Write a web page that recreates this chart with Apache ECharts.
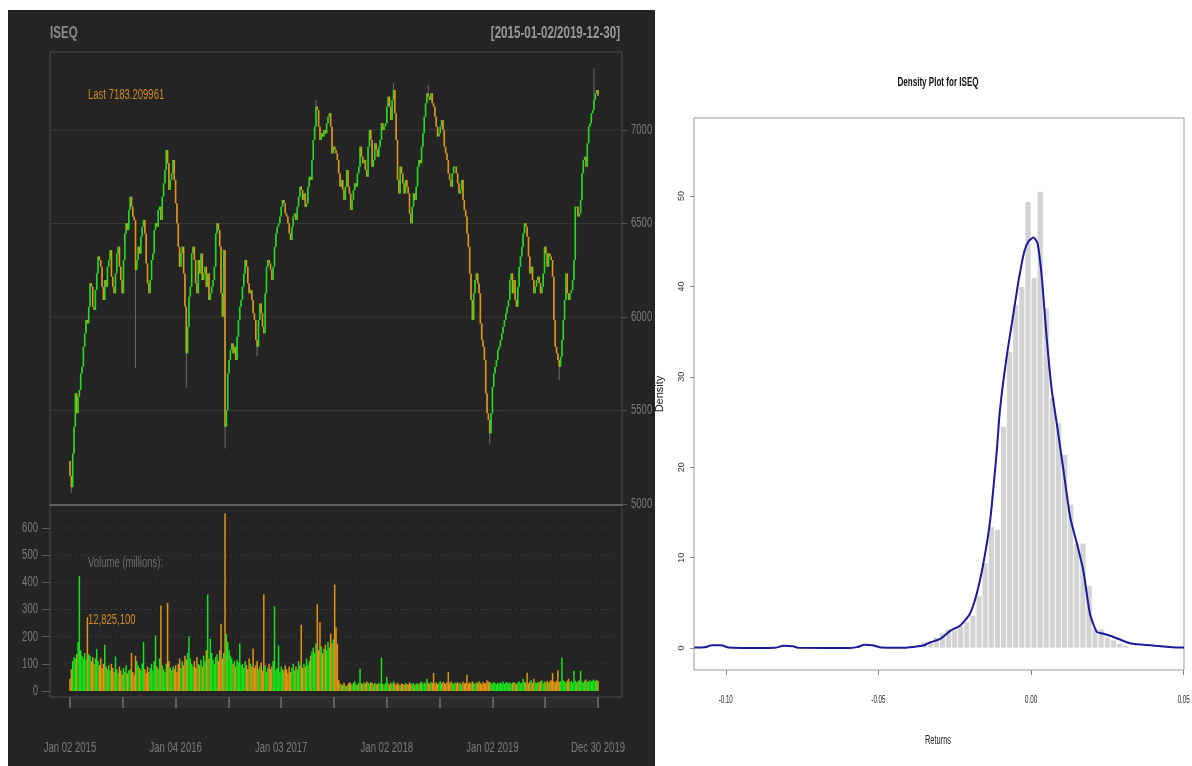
<!DOCTYPE html>
<html>
<head>
<meta charset="utf-8">
<script src="https://cdn.jsdelivr.net/npm/echarts@6/dist/echarts.min.js"></script>
<style>
  html, body { margin: 0; padding: 0; background: #ffffff; }
  #wrap { position: relative; width: 1192px; height: 766px; overflow: hidden; }
  #dark { position: absolute; left: 8px; top: 10px; width: 647px; height: 756px; background: #242424; }
  #chart { position: absolute; left: 0; top: 0; width: 1192px; height: 766px; }
</style>
</head>
<body>
<div id="wrap"><div id="dark"></div><div id="chart"></div></div>
<script>
// ---------- ISEQ price path (closing level of each ~3-session step) ----------
const closes = [
  5150, 5090, 5271, 5413, 5592, 5485, 5574, 5609, 5699, 5734,
  5841, 5913, 5984, 5966, 6055, 6180, 6162, 6055, 6038, 6144,
  6233, 6323, 6305, 6269, 6162, 6091, 6198, 6162, 6269, 6305,
  6358, 6216, 6162, 6127, 6233, 6340, 6376, 6269, 6198, 6127,
  6305, 6447, 6501, 6465, 6572, 6643, 6590, 6536, 6519, 6251,
  6305, 6376, 6340, 6429, 6483, 6519, 6447, 6287, 6180, 6127,
  6198, 6305, 6340, 6465, 6501, 6483, 6572, 6590, 6519, 6643,
  6715, 6786, 6893, 6822, 6679, 6733, 6768, 6840, 6733, 6608,
  6501, 6376, 6269, 6340, 6376, 6233, 6055, 5806, 5948, 6109,
  6162, 6340, 6376, 6305, 6180, 6127,
  6305, 6233, 6340, 6198, 6233, 6269, 6162, 6233, 6091, 6127,
  6162, 6198, 6269, 6447, 6501, 6465, 6376, 6127, 6002, 6358,
  5413, 5502, 5699, 5770, 5824, 5859, 5806, 5841, 5770, 5895,
  5984, 6055, 6091, 6162, 6233, 6305, 6269, 6180, 6127, 6144,
  6091, 6020, 5984, 5877, 5841, 5984, 6073, 6020, 5948, 5913,
  6127, 6269, 6305, 6287, 6251, 6198, 6269, 6376, 6447, 6483,
  6501, 6537, 6590, 6626, 6608, 6554, 6537, 6501, 6447, 6412,
  6483, 6537, 6554, 6519, 6590, 6643, 6697, 6679, 6626, 6661,
  6590, 6608, 6697, 6750, 6733, 6840, 6947, 7018, 7125, 7107,
  7018, 6947, 6982, 6965, 7000, 6982, 7036, 7071, 7089, 7018,
  6875,
  6911, 6893, 6875, 6840, 6768, 6697, 6733, 6679, 6626, 6697,
  6786, 6697, 6661, 6572, 6626, 6679, 6715, 6697, 6768, 6804,
  6911, 6857, 6822, 6840, 6786, 6750, 6911, 7000, 6947, 6804,
  6840, 6929, 6893, 6857, 6911, 6947, 7036, 7000, 7018, 7036,
  7125, 7178, 7125, 7053, 7160, 7214, 7089, 6947, 6733, 6661,
  6804, 6768, 6715, 6661, 6733, 6697, 6661, 6554, 6501, 6590,
  6661, 6626, 6697, 6804, 6840, 6822, 6911, 6982, 7071, 7143,
  7196, 7178, 7160, 7196, 7143, 7125, 7071, 7018, 6965, 6982,
  7018, 7053, 7000, 6911, 6875, 6840, 6768, 6733, 6697, 6768,
  6804, 6804, 6768, 6715, 6661, 6679, 6733, 6626, 6572, 6537,
  6447,
  6376, 6233, 6091, 5984, 6127, 6198, 6233, 6180, 6127, 5966,
  5877, 5841, 5770, 5592, 5485, 5449, 5378, 5485, 5627, 5699,
  5734, 5770, 5824, 5841, 5877, 5913, 5948, 5984, 6020, 6055,
  6091, 6198, 6233, 6127, 6198, 6091, 6055, 6162, 6269, 6323,
  6376, 6447, 6501, 6483, 6429, 6323, 6233, 6269, 6198, 6127,
  6162, 6198, 6216, 6180, 6127, 6162, 6233, 6376, 6340, 6269,
  6340, 6323, 6305, 6216, 5984, 5841, 5806, 5770, 5734, 5788,
  5877, 5984, 6091, 6233, 6127, 6091, 6127, 6144, 6198, 6305,
  6590, 6590, 6537, 6554, 6626, 6768, 6840, 6857, 6804, 6929,
  7018, 7036, 7089, 7107, 7160, 7196, 7214, 7183
];
const firstOpen = 5230;
// long shadows: [step index, extreme level]
const wickLows  = [[1, 5060], [49, 5725], [87, 5620], [116, 5297], [140, 5790], [314, 5324], [366, 5663]];
const wickHighs = [[184, 7160], [242, 7250], [268, 7240], [392, 7330]];

// ---------- traded volume, millions ----------
const volumes = [
  45, 80, 110, 125, 120, 135, 180, 423, 150, 130,
  120, 140, 115, 272, 135, 130, 110, 125, 100, 120,
  155, 110, 95, 120, 85, 100, 170, 90, 80, 95,
  75, 100, 85, 70, 127, 80, 65, 90, 75, 60,
  85, 70, 95, 65, 75, 80, 140, 70, 60, 130,
  110, 95, 85, 75, 100, 181, 80, 65, 90, 70,
  85, 100, 75, 110, 205, 90, 80, 120, 315, 95,
  80, 70, 100, 324, 110, 85, 75, 90, 80, 95,
  70, 100, 120, 85, 110, 95, 130, 115, 140, 201,
  120, 100, 90, 110, 85, 125, 100, 95, 115, 90,
  130, 110, 150, 356, 120, 192, 140, 115, 100, 125,
  135, 110, 150, 248, 120, 140, 654, 210, 180, 150,
  130, 120, 100, 110, 90, 115, 105, 175, 95, 100,
  85, 110, 95, 80, 120, 100, 90, 156, 85, 95,
  110, 80, 90, 105, 75, 356, 95, 70, 85, 100,
  80, 90, 110, 312, 75, 85, 167, 70, 90, 80,
  75, 95, 80, 65, 90, 70, 85, 100, 75, 90,
  80, 110, 95, 244, 85, 100, 90, 120, 95, 110,
  130, 145, 160, 140, 175, 319, 150, 254, 165, 140,
  155, 170, 150, 180, 160, 211, 175, 190, 392, 235,
  174, 40, 28, 25, 22, 30, 20, 18, 25, 32,
  28, 24, 30, 35, 26, 22, 30, 82, 28, 25,
  32, 28, 35, 30, 26, 33, 29, 24, 30, 27,
  25, 30, 28, 123, 26, 22, 30, 52, 28, 24,
  30, 26, 35, 28, 22, 30, 25, 20, 28, 26,
  22, 30, 26, 24, 32, 28, 25, 30, 22, 27,
  28, 24, 30, 35, 26, 31, 28, 45, 30, 26,
  33, 29, 66, 28, 32, 25, 30, 36, 28, 34,
  30, 26, 32, 70, 28, 35, 30, 26, 31, 28,
  33, 27, 30, 25, 34, 28, 30, 60, 27, 32,
  28, 35, 30, 26, 32, 29, 36, 30, 25, 33,
  30, 28, 40, 35, 32, 30, 27, 33, 29, 25,
  30, 27, 32, 28, 35, 26, 30, 33, 28, 31,
  27, 30, 33, 29, 25, 31, 35, 28, 30, 45,
  33, 30, 67, 28, 35, 40, 30, 45, 32, 29,
  34, 30, 36, 40, 28, 35, 32, 38, 30, 36,
  40, 66, 35, 30, 38, 76, 33, 36, 123, 40,
  35, 30, 38, 45, 33, 36, 30, 74, 38, 32,
  36, 40, 74, 35, 30, 38, 42, 33, 36, 40,
  35, 38, 42, 36, 40, 38
];

const dateLabels   = ['Jan 02 2015', 'Jan 04 2016', 'Jan 03 2017', 'Jan 02 2018', 'Jan 02 2019', 'Dec 30 2019'];
const priceTicks   = [5000, 5500, 6000, 6500, 7000];
const priceGrid    = [5500, 6000, 6500, 7000];
const volumeTicks  = [0, 100, 200, 300, 400, 500, 600];

// ---------- daily returns: histogram and kernel density ----------
const binStart = -0.036;
const binWidth = 0.002;
const binHeights = [
  0.7, 0.8, 1.2, 1.7, 2.1, 2.0, 2.5, 2.9, 3.6, 5.8,
  9.4, 13.4, 13.1, 24.5, 32.8, 38.0, 40.0, 49.4, 41.0, 50.5,
  37.6, 27.7, 24.9, 21.4, 15.9, 11.6, 11.6, 6.9, 2.1, 2.1,
  1.2, 0.9, 0.5, 0.3
];
const densityX = [
  -0.1103, -0.107, -0.1045, -0.1015, -0.099, -0.09, -0.084, -0.081, -0.078, -0.076,
  -0.06, -0.057, -0.0545, -0.052, -0.049, -0.043, -0.038, -0.035, -0.0332, -0.0298,
  -0.0265, -0.0232, -0.0200, -0.0178, -0.0156, -0.0134, -0.0112, -0.0102, -0.0080, -0.0060,
  -0.0040, -0.0022, -0.0008, 0.0008, 0.0021, 0.0035, 0.0051, 0.0068, 0.0084, 0.0106,
  0.0128, 0.0150, 0.0171, 0.0193, 0.0215, 0.0235, 0.0272, 0.0327, 0.0393, 0.0462, 0.0501
];
const densityY = [
  0.05, 0.08, 0.3, 0.3, 0.05, 0.0, 0.02, 0.25, 0.2, 0.02,
  0.0, 0.1, 0.35, 0.3, 0.05, 0.02, 0.15, 0.3, 0.6, 1.0,
  1.9, 2.5, 3.8, 6.0, 9.4, 14.1, 21.9, 26.3, 32.2, 36.5,
  40.8, 43.9, 45.0, 45.4, 44.8, 41.1, 34.4, 28.5, 24.9, 19.7,
  14.5, 11.6, 8.6, 3.8, 1.8, 1.6, 1.2, 0.5, 0.3, 0.1, 0.05
];
const densityTicksX = [-0.10, -0.05, 0.00, 0.05];
const densityTicksY = [0, 10, 20, 30, 40, 50];

// ---------- styling ----------
const UP = '#19e019';
const DOWN = '#e39512';
const FONT = "'Liberation Sans', Arial, sans-serif";
const AXIS_GREY = '#7b7b7b';
const SQUEEZE = 0.68;      // condensed lettering of the quote panel
const SQUEEZE_R = 0.62;    // condensed lettering of the density panel

// time axis in years from the first session (0) to the last (5)
const XMIN = -0.1894, XMAX = 5.2273;
const N = closes.length;
const tOf = i => i * 5 / (N - 1);

const candleData = closes.map((c, i) => {
  const o = i === 0 ? firstOpen : closes[i - 1];
  return [tOf(i), o, c, Math.min(o, c), Math.max(o, c)];
});
wickLows.forEach(([i, v]) => { candleData[i][3] = v; });
wickHighs.forEach(([i, v]) => { candleData[i][4] = v; });

const volumeData = volumes.map((v, i) => [tOf(i), v, candleData[i][2] >= candleData[i][1] ? 1 : 0]);

const histData = binHeights.map((h, j) => [binStart + j * binWidth, binStart + (j + 1) * binWidth, h]);
const densityData = densityX.map((x, k) => [x, densityY[k]]);

function renderCandle(params, api) {
  const x = api.value(0), o = api.value(1), c = api.value(2), lo = api.value(3), hi = api.value(4);
  const pO = api.coord([x, o]), pC = api.coord([x, c]);
  const pL = api.coord([x, lo]), pH = api.coord([x, hi]);
  const w = 1.6;
  const top = Math.min(pO[1], pC[1]);
  const h = Math.max(Math.abs(pO[1] - pC[1]), 1);
  return {
    type: 'group',
    children: [
      { type: 'line', shape: { x1: pL[0], y1: pL[1], x2: pH[0], y2: pH[1] },
        style: { stroke: '#6c6c6c', lineWidth: 1 } },
      { type: 'rect', shape: { x: pO[0] - w / 2, y: top, width: w, height: h },
        style: { fill: c >= o ? UP : DOWN } }
    ]
  };
}

function renderVolume(params, api) {
  const x = api.value(0), v = api.value(1), up = api.value(2);
  const p0 = api.coord([x, 0]), p1 = api.coord([x, v]);
  const w = 1.5;
  return { type: 'rect', shape: { x: p0[0] - w / 2, y: p1[1], width: w, height: p0[1] - p1[1] },
           style: { fill: up ? UP : DOWN } };
}

function gridLineRenderer(color, dash) {
  return function (params, api) {
    const v = api.value(1);
    const a = api.coord([XMIN, v]), b = api.coord([XMAX, v]);
    return { type: 'line', shape: { x1: a[0], y1: a[1], x2: b[0], y2: b[1] },
             style: { stroke: color, lineWidth: 1, lineDash: dash } };
  };
}

function renderBin(params, api) {
  const a = api.coord([api.value(0), 0]);
  const b = api.coord([api.value(1), api.value(2)]);
  return { type: 'rect', shape: { x: a[0], y: b[1], width: b[0] - a[0], height: a[1] - b[1] },
           style: { fill: '#d3d3d3', stroke: '#ffffff', lineWidth: 0.8 } };
}

// condensed text placed at an anchor point
function label(text, x, y, opts) {
  return {
    type: 'text', x: x, y: y, scaleX: opts.squeeze, scaleY: 1, silent: true, z: 10,
    style: { text: text, fill: opts.color, font: (opts.weight || '') + ' ' + opts.size + 'px ' + FONT,
             align: opts.align || 'left', verticalAlign: 'middle' }
  };
}

const chart = echarts.init(document.getElementById('chart'), null, { renderer: 'canvas' });

const option = {
  animation: false,
  backgroundColor: 'transparent',
  grid: [
    { left: 50, top: 52, width: 572, height: 453, show: true, borderColor: '#484848', borderWidth: 1 },
    { left: 50, top: 505, width: 572, height: 192, show: true, borderColor: '#484848', borderWidth: 1 },
    { left: 694, top: 118, width: 490, height: 552, show: true, borderColor: '#9a9a9a', borderWidth: 1 }
  ],
  xAxis: [
    { type: 'value', gridIndex: 0, min: XMIN, max: XMAX,
      axisLine: { show: true, onZero: false, lineStyle: { color: '#6e6e6e', width: 1.5 } },
      axisTick: { show: false }, axisLabel: { show: false }, splitLine: { show: false } },
    { type: 'value', gridIndex: 1, min: XMIN, max: XMAX,
      axisLine: { show: false, onZero: false },
      axisTick: { show: true, length: 11, customValues: [0, 0.5, 1, 1.5, 2, 2.5, 3, 3.5, 4, 4.5, 5],
                  lineStyle: { color: '#5e5e5e', width: 2 } },
      axisLabel: { show: false }, splitLine: { show: false } },
    { type: 'value', gridIndex: 2, min: -0.1104, max: 0.0501,
      axisLine: { show: false, onZero: false },
      axisTick: { show: true, length: 5, customValues: densityTicksX, lineStyle: { color: '#888' } },
      axisLabel: { show: false }, splitLine: { show: false } }
  ],
  yAxis: [
    { type: 'value', gridIndex: 0, position: 'right', min: 4995, max: 7417,
      axisLine: { show: false, onZero: false },
      axisTick: { show: true, length: 5, customValues: priceTicks, lineStyle: { color: '#5a5a5a' } },
      axisLabel: { show: false }, splitLine: { show: false } },
    { type: 'value', gridIndex: 1, position: 'left', min: -22.1, max: 684.7,
      axisLine: { show: false, onZero: false },
      axisTick: { show: true, length: 8, customValues: volumeTicks, lineStyle: { color: '#5a5a5a' } },
      axisLabel: { show: false }, splitLine: { show: false } },
    { type: 'value', gridIndex: 2, min: -2.43, max: 58.63,
      name: 'Density', nameLocation: 'middle', nameGap: 29, nameRotate: 90,
      nameTextStyle: { color: '#222', fontFamily: FONT, fontSize: 11 },
      axisLine: { show: false, onZero: false },
      axisTick: { show: true, length: 4, customValues: densityTicksY, lineStyle: { color: '#888' } },
      axisLabel: { show: true, margin: 8, rotate: 90, customValues: densityTicksY, formatter: v => String(v),
                   color: '#333', fontFamily: FONT, fontSize: 9 },
      splitLine: { show: false } }
  ],
  series: [
    { type: 'custom', name: 'price grid', xAxisIndex: 0, yAxisIndex: 0, silent: true, z: 1,
      data: priceGrid.map(v => [XMIN, v]), renderItem: gridLineRenderer('#383838', null) },
    { type: 'custom', name: 'volume grid', xAxisIndex: 1, yAxisIndex: 1, silent: true, z: 1,
      data: volumeTicks.slice(1).map(v => [XMIN, v]), renderItem: gridLineRenderer('#3a3a3a', [2, 3]) },
    { type: 'custom', name: 'ISEQ', xAxisIndex: 0, yAxisIndex: 0, silent: true, z: 3,
      data: candleData, renderItem: renderCandle },
    { type: 'custom', name: 'Volume', xAxisIndex: 1, yAxisIndex: 1, silent: true, z: 3,
      data: volumeData, renderItem: renderVolume },
    { type: 'custom', name: 'Histogram', xAxisIndex: 2, yAxisIndex: 2, silent: true, z: 2,
      data: histData, renderItem: renderBin },
    { type: 'line', name: 'Density', xAxisIndex: 2, yAxisIndex: 2, silent: true, z: 4,
      data: densityData, showSymbol: false, smooth: 0.2,
      lineStyle: { color: '#1a1a9c', width: 2 } }
  ]
};

chart.setOption(option);

// text layer: titles, legends and tick labels positioned from the axes
const L = { color: AXIS_GREY, size: 14, squeeze: SQUEEZE };
const g = [];
g.push(label('ISEQ', 50, 33, { color: '#8a8a8a', size: 17, weight: 'bold', squeeze: SQUEEZE }));
g.push(label('[2015-01-02/2019-12-30]', 620, 33, { color: '#9a9a9a', size: 17, weight: 'bold', squeeze: SQUEEZE, align: 'right' }));
g.push(label('Last 7183.209961', 88, 95, { color: '#cf8a1e', size: 14, squeeze: SQUEEZE }));
g.push(label('Volume (millions):', 88, 563, { color: '#6f6f6f', size: 14, squeeze: SQUEEZE }));
g.push(label('12,825,100', 88, 620, { color: '#cf8a1e', size: 14, squeeze: SQUEEZE }));

dateLabels.forEach((s, k) => {
  const px = chart.convertToPixel({ xAxisIndex: 1 }, k);
  g.push(label(s, px, 748, Object.assign({ align: 'center' }, L)));
});
priceTicks.forEach(v => {
  const py = chart.convertToPixel({ yAxisIndex: 0 }, v);
  g.push(label(String(v), 631, py, L));
});
volumeTicks.forEach(v => {
  const py = chart.convertToPixel({ yAxisIndex: 1 }, v);
  g.push(label(String(v), 38, py, Object.assign({ align: 'right' }, L)));
});

g.push(label('Density Plot for ISEQ', 938, 82, { color: '#111', size: 13, weight: 'bold', squeeze: SQUEEZE_R, align: 'center' }));
densityTicksX.forEach(v => {
  const px = chart.convertToPixel({ xAxisIndex: 2 }, v);
  g.push(label(v.toFixed(2), px, 700, { color: '#222', size: 10, squeeze: SQUEEZE_R, align: 'center' }));
});
g.push(label('Returns', 938, 741, { color: '#222', size: 12, squeeze: SQUEEZE_R, align: 'center' }));

// shaded strip under the volume panel carrying the date ticks
const xa = chart.convertToPixel({ xAxisIndex: 1 }, 0);
const xb = chart.convertToPixel({ xAxisIndex: 1 }, 5);
g.push({ type: 'rect', z: -1, silent: true,
  shape: { x: xa, y: 697, width: xb - xa, height: 11 }, style: { fill: '#2d2d2d' } });

chart.setOption({ graphic: g });
</script>
</body>
</html>
